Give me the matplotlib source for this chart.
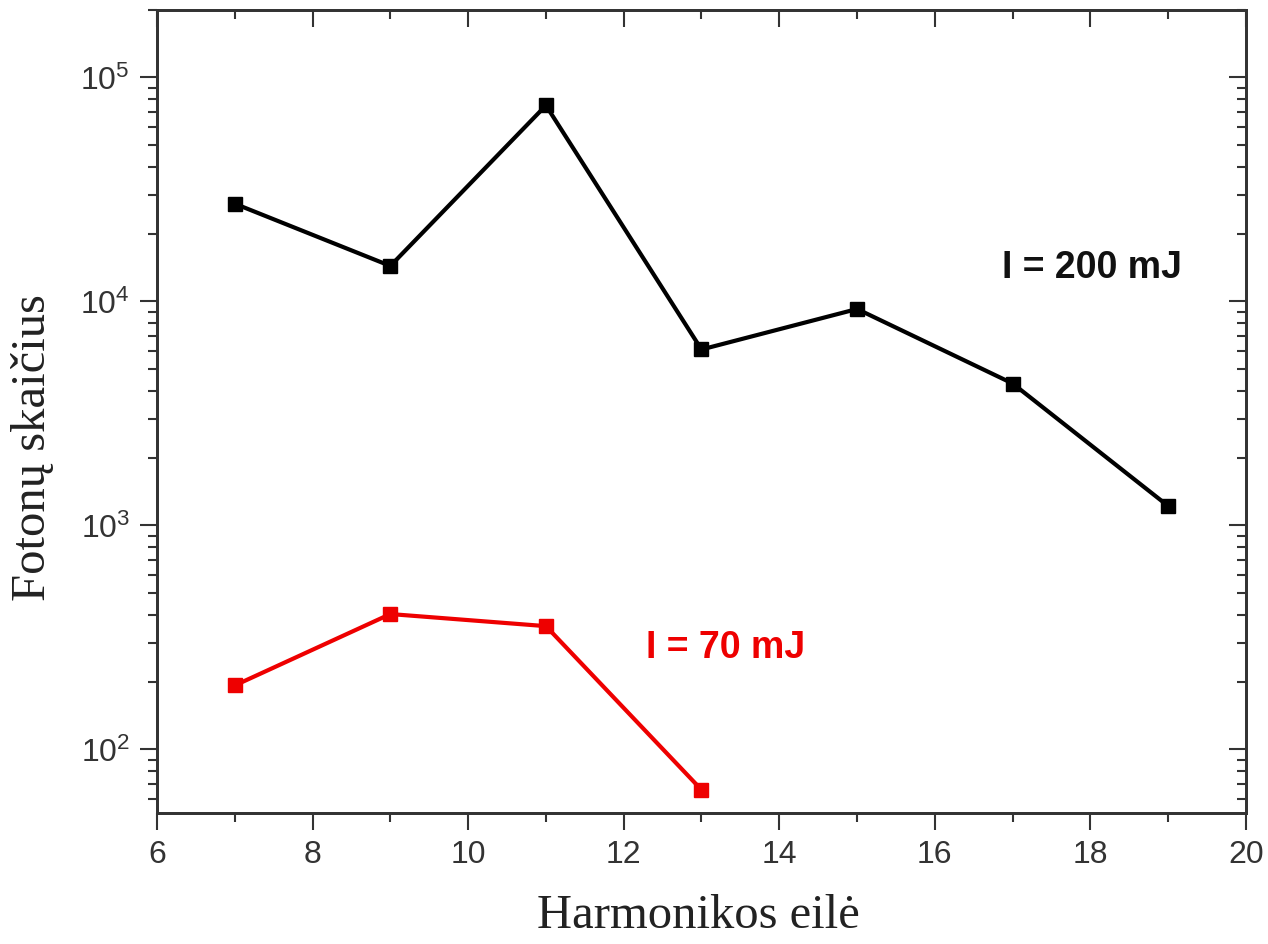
import matplotlib
matplotlib.use("Agg")
import matplotlib.pyplot as plt
from matplotlib.ticker import LogLocator, MultipleLocator, NullFormatter

# Data
harm_200 = [7, 9, 11, 13, 15, 17, 19]
photons_200 = [27300, 14400, 75000, 6100, 9250, 4300, 1220]
harm_70 = [7, 9, 11, 13]
photons_70 = [193, 402, 355, 66]
label_200 = "I = 200 mJ"
label_70 = "I = 70 mJ"
xlabel = "Harmonikos eilė"
ylabel = "Fotonų skaičius"
xticks = [6, 8, 10, 12, 14, 16, 18, 20]

plt.rcParams['font.family'] = ['Liberation Sans', 'DejaVu Sans']
plt.rcParams['mathtext.fontset'] = 'custom'
plt.rcParams['mathtext.rm'] = 'Liberation Sans'
plt.rcParams['mathtext.it'] = 'Liberation Sans:italic'
plt.rcParams['mathtext.bf'] = 'Liberation Sans:bold'

spine_c = '#333333'
fig = plt.figure(figsize=(12.68, 9.44), dpi=100)
ax = fig.add_axes([157/1268, 1-813/944, (1246-157)/1268, (813-10)/944])

ax.plot(harm_200, photons_200, color='black', lw=3, marker='s', ms=10, zorder=3)
ax.plot(harm_70, photons_70, color='#ee0000', lw=3, marker='s', ms=10, zorder=3)

ax.set_yscale('log')
ax.set_xlim(6, 20)
ax.set_ylim(52, 2.0e5)
ax.set_xticks(xticks)
ax.xaxis.set_minor_locator(MultipleLocator(1))
ax.yaxis.set_major_locator(LogLocator(base=10, numticks=10))
ax.yaxis.set_minor_locator(LogLocator(base=10, subs=range(2, 10), numticks=20))
ax.yaxis.set_minor_formatter(NullFormatter())

for s in ax.spines.values():
    s.set_color(spine_c)
    s.set_linewidth(1.8)

ax.tick_params(which='major', direction='out', length=12.5, width=1.5, color=spine_c,
               labelsize=23, labelcolor='#333333', pad=7)
ax.tick_params(which='minor', direction='out', length=6.5, width=1.5, color=spine_c)

# mirrored inward ticks on top and right
axt = ax.twiny()
axt.set_xlim(ax.get_xlim())
axt.set_xticks(xticks)
axt.xaxis.set_minor_locator(MultipleLocator(1))
axt.tick_params(which='major', direction='in', length=12.5, width=1.5, color=spine_c, labeltop=False)
axt.tick_params(which='minor', direction='in', length=6.5, width=1.5, color=spine_c)
axr = ax.twinx()
axr.set_yscale('log')
axr.set_ylim(ax.get_ylim())
axr.yaxis.set_major_locator(LogLocator(base=10, numticks=10))
axr.yaxis.set_minor_locator(LogLocator(base=10, subs=range(2, 10), numticks=20))
axr.tick_params(which='major', direction='in', length=12.5, width=1.5, color=spine_c, labelright=False)
axr.tick_params(which='minor', direction='in', length=6.5, width=1.5, color=spine_c)
axr.yaxis.set_minor_formatter(NullFormatter())
for a in (axt, axr):
    for s in a.spines.values():
        s.set_color(spine_c)
        s.set_linewidth(1.8)

ax.set_xlabel(xlabel, family=['Liberation Serif', 'DejaVu Serif'], fontsize=35,
              color='#222222', va='baseline')
ax.xaxis.set_label_coords(0.497, -0.143)
ax.set_ylabel(ylabel, family=['Liberation Serif', 'DejaVu Serif'], fontsize=35,
              color='#222222', va='center')
ax.yaxis.set_label_coords(-0.114, 0.455)

ax.text(0.8586, 0.679, label_200, transform=ax.transAxes, fontsize=27, fontweight='bold',
        color='#111111', ha='center', va='center')
ax.text(0.522, 0.2055, label_70, transform=ax.transAxes, fontsize=27, fontweight='bold',
        color='#ee0000', ha='center', va='center')

fig.savefig('out.png', dpi=100, facecolor='white')
